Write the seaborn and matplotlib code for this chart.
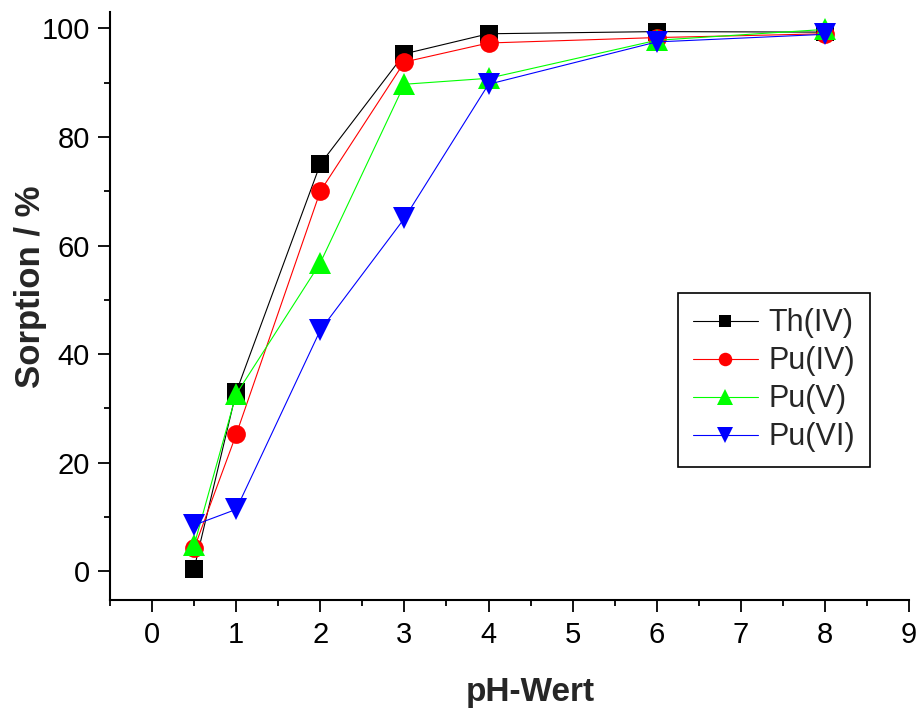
import numpy as np
import pandas as pd
import matplotlib
matplotlib.use("Agg")
import matplotlib.pyplot as plt
import seaborn as sns
from matplotlib.ticker import MultipleLocator

# pH values and sorption (%)
ph = [0.5, 1, 2, 3, 4, 6, 8]
th_iv = [0.5, 33.0, 75.0, 95.3, 99.0, 99.4, 99.3]
pu_iv = [4.2, 25.2, 70.0, 93.8, 97.3, 98.3, 99.0]
pu_v = [4.8, 32.6, 56.8, 89.7, 90.8, 97.8, 99.8]
pu_vi = [8.5, 11.4, 44.4, 65.0, 89.7, 97.5, 98.9]

species = ['Th(IV)', 'Pu(IV)', 'Pu(V)', 'Pu(VI)']
colors = ['black', 'red', '#00ff00', 'blue']
marks = ['s', 'o', '^', 'v']
msize = {'s': 12.5, 'o': 13.5, '^': 16, 'v': 16}

df = pd.concat([
    pd.DataFrame({'pH': ph, 'Sorption': vals, 'Spezies': name})
    for name, vals in zip(species, [th_iv, pu_iv, pu_v, pu_vi])
])

sns.set_style('ticks')
plt.rcParams['font.family'] = ['Liberation Sans', 'DejaVu Sans']

fig = plt.figure(figsize=(9.2, 7.09), dpi=100)
ax = fig.add_axes([0.1196, 0.1537, 0.8685, 0.8293])

sns.lineplot(data=df, x='pH', y='Sorption', hue='Spezies', style='Spezies',
             hue_order=species, style_order=species,
             palette=dict(zip(species, colors)),
             markers=dict(zip(species, marks)), dashes=False,
             markersize=13, markeredgewidth=0, linewidth=0.8,
             ax=ax, legend=True)

# Origin-style marker sizes (triangles drawn larger)
for ln in ax.lines:
    m = ln.get_marker()
    if m in msize:
        ln.set_markersize(msize[m])

ax.set_xlim(-0.5, 9.0)
ax.set_ylim(-5.3, 103)
ax.xaxis.set_major_locator(MultipleLocator(1))
ax.xaxis.set_minor_locator(MultipleLocator(0.5))
ax.yaxis.set_major_locator(MultipleLocator(20))
ax.yaxis.set_minor_locator(MultipleLocator(10))

for s in ['top', 'right']:
    ax.spines[s].set_visible(False)
for s in ['left', 'bottom']:
    ax.spines[s].set_linewidth(1.5)
    ax.spines[s].set_color('black')

ax.tick_params(which='major', direction='out', length=8.5, width=1.3,
               labelsize=21, colors='black')
ax.tick_params(which='minor', direction='out', length=4.3, width=1.3, colors='black')
ax.tick_params(axis='x', which='major', pad=6.5)
ax.tick_params(axis='y', which='major', pad=6)

ax.set_xlabel('pH-Wert', fontsize=24, fontweight='bold')
ax.set_ylabel('Sorption / %', fontsize=25, fontweight='bold')
ax.xaxis.set_label_coords(0.526, -0.131)
ax.yaxis.set_label_coords(-0.079, 0.532)

handles, labels = ax.get_legend_handles_labels()
leg = ax.legend(handles, labels, loc='upper left', bbox_to_anchor=(0.711, 0.522),
                fontsize=22, markerscale=0.72, handlelength=2.1,
                handletextpad=0.36, labelspacing=0.26, borderpad=0.5,
                borderaxespad=0, fancybox=False, framealpha=1, edgecolor='black')
leg.get_frame().set_linewidth(1.2)

fig.savefig('out.png', dpi=100)
